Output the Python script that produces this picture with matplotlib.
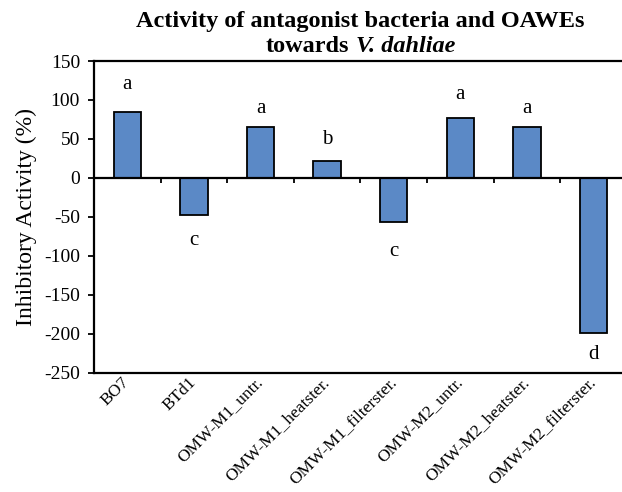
import matplotlib
matplotlib.use("Agg")
import matplotlib.pyplot as plt
import matplotlib.transforms as mtransforms
import numpy as np
from matplotlib.offsetbox import AnchoredOffsetbox, HPacker, TextArea, VPacker

plt.rcParams["font.family"] = ["Liberation Serif", "DejaVu Serif"]
plt.rcParams["axes.unicode_minus"] = False

treatments = ["BO7", "BTd1", "OMW-M1_untr.", "OMW-M1_heatster.",
              "OMW-M1_filterster.", "OMW-M2_untr.", "OMW-M2_heatster.",
              "OMW-M2_filterster."]
activity = [85, -48, 66, 22, -56, 77, 66, -199]
letters = ["a", "c", "a", "b", "c", "a", "a", "d"]
letter_y = [120, -80, 89, 49, -94, 107, 89, -226]

fig = plt.figure(figsize=(6.22, 4.92), dpi=100)
ax = fig.add_axes([0.151, 0.242, 0.857, 0.634])

x = np.arange(len(treatments))
ax.bar(x, activity, width=0.41, color="#5b89c6", edgecolor="black",
       linewidth=1.3, zorder=3)

for xi, lab, ly in zip(x, letters, letter_y):
    ax.text(xi, ly, lab, ha="center", va="center", fontsize=15)

# zero line with category separator ticks
ax.axhline(0, color="black", lw=1.6, zorder=4)
ax.vlines(np.arange(len(treatments) + 1) - 0.5, -7, 0, color="black", lw=1.3)

ax.set_xlim(-0.5, len(treatments) - 0.5)
ax.set_ylim(-250, 150)
ax.set_yticks(np.arange(-250, 151, 50))
ax.set_xticks(x)
ax.set_xticklabels(treatments, rotation=45, ha="right", va="top",
                   rotation_mode="anchor", fontsize=12.5)
ax.tick_params(axis="x", length=0, pad=1)
shift = mtransforms.ScaledTranslation(-4 / 72, 0, fig.dpi_scale_trans)
for lbl in ax.get_xticklabels():
    lbl.set_transform(lbl.get_transform() + shift)
ax.tick_params(axis="y", direction="out", length=4, width=1.3, pad=6,
               labelsize=14)
for sp in ax.spines.values():
    sp.set_linewidth(1.6)

ax.set_ylabel("Inhibitory Activity (%)", fontsize=17, labelpad=5)

# two-line title with italic species name
tprops = dict(fontsize=17.5, fontweight="bold", family="Liberation Serif")
line1 = TextArea("Activity of antagonist bacteria and OAWEs", textprops=tprops)
line2 = HPacker(children=[
    TextArea("towards", textprops=tprops),
    TextArea("V. dahliae", textprops=dict(tprops, style="italic")),
], align="baseline", pad=0, sep=5)
title = VPacker(children=[line1, line2], align="center", pad=0, sep=3)
box = AnchoredOffsetbox(loc="lower center", child=title, pad=0, borderpad=0,
                        frameon=False, bbox_to_anchor=(0.5, 1.012),
                        bbox_transform=ax.transAxes)
ax.add_artist(box)

fig.savefig("out.png", dpi=100)
